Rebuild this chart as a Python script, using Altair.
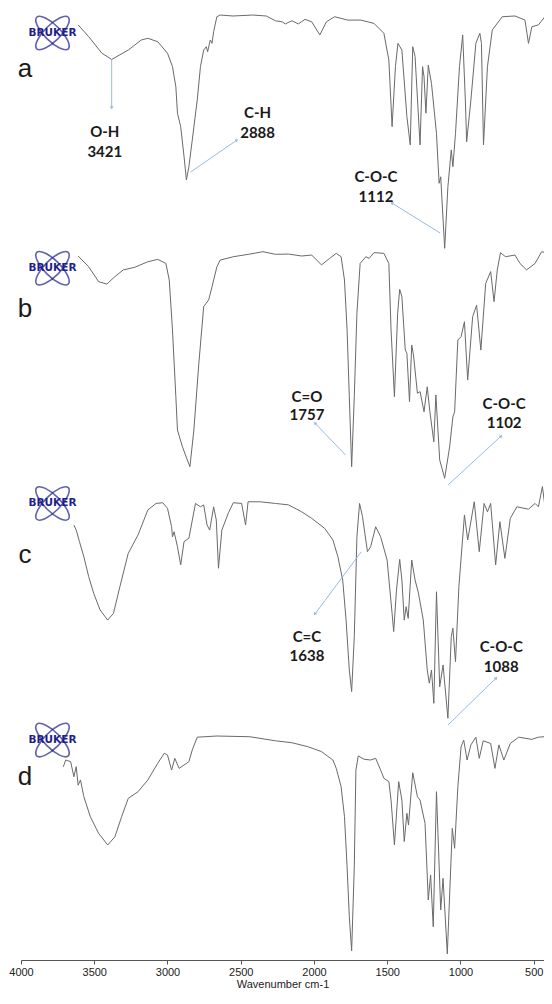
import altair as alt
import pandas as pd

# ---- spectra (wavenumber cm-1, transmittance in panel units 0-100) ----
wn_a = [3610, 3538, 3448, 3381, 3268, 3179, 3134, 3067, 3000, 2966,
        2943, 2932, 2910, 2887, 2871, 2854, 2831, 2797, 2775, 2753,
        2735, 2726, 2708, 2696, 2685, 2663, 2640, 2553, 2418, 2326,
        2263, 2218, 2196, 2151, 2107, 2061, 2016, 1960, 1915, 1860,
        1770, 1680, 1590, 1523, 1489, 1467, 1444, 1427, 1400, 1366,
        1343, 1326, 1310, 1276, 1259, 1249, 1236, 1220, 1198, 1164,
        1146, 1135, 1108, 1086, 1063, 1052, 1034, 1007, 985, 967,
        958, 929, 895, 868, 857, 843, 816, 783, 715, 628,
        560, 536, 513, 468, 406]
T_a = [93.8, 88.9, 82.0, 79.4, 83.3, 87.5, 88.2, 86.8, 82.0, 76.4,
       68.0, 57.0, 51.4, 38.9, 29.2, 34.7, 45.8, 62.5, 76.4, 83.3,
       84.7, 82.6, 87.5, 86.1, 91.0, 97.2, 97.9, 97.5, 97.9, 97.5,
       95.5, 95.1, 94.2, 95.5, 94.2, 96.1, 95.1, 89.6, 95.1, 97.2,
       95.8, 95.8, 94.4, 90.3, 79.2, 51.4, 76.4, 86.1, 83.3, 55.6,
       43.8, 84.7, 80.6, 43.8, 76.4, 72.2, 57.0, 77.0, 69.4, 48.6,
       27.8, 30.5, 0.7, 26.4, 41.7, 34.7, 48.6, 76.4, 89.6, 62.5,
       45.1, 62.5, 86.1, 90.3, 86.1, 43.8, 76.4, 91.7, 97.2, 97.5,
       95.8, 86.1, 93.0, 93.8, 98.6]

wn_b = [3610, 3538, 3470, 3414, 3359, 3302, 3224, 3134, 3067, 3011,
        2988, 2966, 2943, 2932, 2898, 2869, 2847, 2820, 2786, 2753,
        2719, 2696, 2663, 2640, 2551, 2438, 2349, 2263, 2174, 2084,
        2016, 1949, 1893, 1848, 1815, 1792, 1774, 1759, 1743, 1725,
        1707, 1685, 1646, 1624, 1590, 1523, 1489, 1474, 1451, 1429,
        1415, 1400, 1377, 1366, 1348, 1333, 1321, 1294, 1276, 1249,
        1227, 1209, 1182, 1168, 1142, 1108, 1074, 1052, 1040, 1018,
        996, 973, 951, 917, 890, 861, 828, 794, 771, 749,
        727, 693, 628, 594, 549, 491, 446, 406]
T_b = [97.5, 93.0, 86.8, 85.8, 88.9, 91.7, 92.8, 95.1, 96.1, 94.4,
       87.5, 66.7, 38.9, 25.0, 18.0, 13.2, 9.7, 25.0, 52.8, 76.4,
       79.2, 84.7, 93.0, 95.8, 97.2, 98.3, 99.3, 98.2, 98.3, 97.5,
       97.9, 93.8, 96.5, 98.6, 97.2, 87.5, 66.7, 38.9, 9.7, 38.9,
       73.6, 94.4, 97.2, 96.5, 98.9, 98.6, 94.4, 66.7, 38.9, 73.6,
       83.6, 80.5, 58.3, 57.0, 36.8, 60.4, 56.3, 40.3, 41.0, 32.6,
       43.0, 32.6, 20.1, 39.6, 12.5, 4.9, 18.0, 30.5, 32.6, 62.5,
       63.9, 70.1, 45.8, 72.2, 77.0, 58.3, 86.1, 91.0, 78.5, 91.7,
       98.9, 97.2, 97.9, 94.4, 91.7, 94.4, 99.3, 98.6]

wn_c = [3639, 3623, 3601, 3571, 3538, 3504, 3460, 3408, 3369, 3325,
        3268, 3201, 3134, 3078, 3033, 3000, 2972, 2966, 2955, 2932,
        2910, 2887, 2854, 2809, 2775, 2753, 2730, 2712, 2685, 2667,
        2652, 2629, 2584, 2551, 2494, 2467, 2450, 2371, 2263, 2174,
        2084, 2016, 1927, 1871, 1837, 1804, 1781, 1759, 1743, 1725,
        1707, 1689, 1669, 1635, 1613, 1579, 1545, 1501, 1467, 1456,
        1437, 1415, 1400, 1384, 1371, 1357, 1333, 1310, 1287, 1254,
        1227, 1213, 1198, 1182, 1164, 1142, 1119, 1086, 1063, 1052,
        1034, 1011, 973, 951, 935, 906, 872, 839, 816, 794,
        760, 731, 697, 660, 615, 536, 491, 468, 441, 423, 406]
T_c = [85.4, 83.3, 78.5, 72.2, 63.9, 57.0, 50.0, 45.8, 48.6, 59.7,
       73.6, 81.3, 91.7, 94.4, 94.7, 92.4, 84.7, 80.5, 82.6, 76.4,
       68.8, 78.5, 79.9, 94.4, 93.0, 93.8, 85.4, 83.3, 93.0, 87.5,
       67.4, 83.3, 90.5, 94.7, 94.4, 85.4, 95.1, 95.1, 94.4, 93.8,
       90.9, 88.2, 84.0, 79.2, 72.2, 62.5, 45.8, 25.0, 16.0, 38.9,
       80.5, 94.4, 88.9, 74.3, 76.4, 84.7, 80.5, 70.8, 48.6, 41.0,
       58.3, 71.1, 62.5, 45.8, 51.4, 46.5, 70.8, 62.5, 57.0, 45.8,
       25.0, 19.5, 25.0, 11.1, 57.6, 18.0, 27.1, 4.9, 38.9, 42.4,
       28.5, 59.7, 89.6, 79.2, 84.7, 95.1, 74.3, 94.4, 90.9, 94.4,
       68.8, 86.8, 71.5, 88.2, 93.0, 92.0, 94.4, 93.0, 101.4, 93.0, 92.4]

wn_d = [3711, 3695, 3661, 3639, 3623, 3610, 3594, 3571, 3527, 3470,
        3408, 3359, 3313, 3268, 3201, 3134, 3067, 3022, 3000, 2972,
        2950, 2921, 2854, 2831, 2797, 2663, 2438, 2263, 2151, 2039,
        1949, 1871, 1848, 1815, 1792, 1774, 1759, 1743, 1725, 1714,
        1698, 1658, 1613, 1579, 1545, 1523, 1489, 1474, 1451, 1422,
        1400, 1384, 1366, 1355, 1326, 1294, 1276, 1242, 1220, 1204,
        1186, 1164, 1135, 1119, 1090, 1056, 1040, 1018, 996, 978,
        955, 929, 895, 872, 845, 794, 765, 738, 704, 660,
        603, 513, 468, 428, 406]
T_d = [84.7, 87.5, 86.8, 80.5, 84.7, 77.0, 79.2, 72.2, 63.9, 56.9,
       52.1, 55.5, 63.9, 71.5, 74.3, 79.2, 86.1, 90.3, 89.6, 83.3,
       88.2, 84.0, 86.8, 91.7, 97.0, 97.5, 97.2, 95.5, 94.7, 93.0,
       91.0, 87.5, 84.0, 76.4, 63.9, 43.0, 22.2, 8.0, 43.0, 83.3,
       89.2, 87.8, 87.5, 88.2, 83.3, 79.9, 78.5, 70.8, 52.1, 78.5,
       70.8, 53.5, 65.3, 60.4, 82.2, 72.2, 70.8, 61.1, 29.2, 39.6,
       18.0, 74.3, 25.0, 38.2, 6.7, 59.0, 50.7, 76.4, 93.0, 95.8,
       87.5, 93.8, 97.0, 88.2, 95.5, 94.4, 84.0, 93.8, 87.5, 94.4,
       97.0, 96.1, 97.0, 97.2, 102.8]

panels = ["a", "b", "c", "d"]
offsets = [300, 200, 100, 0]

# panel letters and logo levels (in stacked units)
letter_y = [372.2, 272.1, 169.6, 77.1]
logo_y = [390.4, 292.4, 194.4, 95.8]

# band annotations
lab_line1 = ["O-H", "C-H", "C-O-C", "C=O", "C-O-C", "C=C", "C-O-C"]
lab_line2 = ["3421", "2888", "1112", "1757", "1102", "1638", "1088"]
lab_wn = [3428, 2385, 1577, 2048, 702, 2048, 722]
lab_y1 = [349.2, 357.1, 330.4, 238.8, 235.8, 138.8, 134.6]
lab_y2 = [340.8, 348.8, 322.1, 231.3, 227.9, 130.8, 126.3]
# pointer lines: from band to label
ptr_wn_band = [3381, 2842, 1139, 1785, 1085, 1678, 1085]
ptr_y_band = [379.2, 332.5, 307.1, 214.6, 202.1, 174.2, 102.1]
ptr_wn_lab = [3381, 2526, 1469, 1994, 722, 1994, 756]
ptr_y_lab = [359.2, 345.8, 319.6, 227.9, 222.5, 148.3, 121.7]
ptr_angle = [180, 56, 301, 316, 48, 217, 46]

x_ticks = [4000, 3500, 3000, 2500, 2000, 1500, 1000, 500]

# ---- build tables ----
rows = []
for p, off, wn, T in zip(panels, offsets, [wn_a, wn_b, wn_c, wn_d], [T_a, T_b, T_c, T_d]):
    for i, (w, t) in enumerate(zip(wn, T)):
        rows.append({"panel": p, "wn": w, "y": t + off, "i": i})
spec = pd.DataFrame(rows)

letters = pd.DataFrame({"t": panels, "wn": [3973] * 4, "y": letter_y})
logos = pd.DataFrame({"t": ["BRUKER"] * 4, "wn": [3785] * 4, "y": logo_y})

lab_rows = []
for a, b, w, y1, y2 in zip(lab_line1, lab_line2, lab_wn, lab_y1, lab_y2):
    lab_rows.append({"t": a, "wn": w, "y": y1})
    lab_rows.append({"t": b, "wn": w, "y": y2})
labels = pd.DataFrame(lab_rows)

ptrs = pd.DataFrame({"wn1": ptr_wn_band, "y1": ptr_y_band,
                     "wn2": ptr_wn_lab, "y2": ptr_y_lab, "ang": ptr_angle})

xs = alt.Scale(domain=[4000, 430], nice=False, zero=False)
ys = alt.Scale(domain=[4.167, 400.833], nice=False, zero=False)

x_axis = alt.Axis(values=x_ticks, format="d", tickSize=4, labelPadding=2,
                  title="Wavenumber cm-1", titlePadding=1, grid=False,
                  domainColor="#555555", tickColor="#555555",
                  labelFont="Liberation Sans", labelFontSize=11, labelColor="#222222",
                  labelFlush=False,
                  titleFont="Liberation Sans", titleFontSize=11,
                  titleFontWeight="normal", titleColor="#222222")

lines = alt.Chart(spec).mark_line(color="#6a6a6a", strokeWidth=1, clip=True).encode(
    x=alt.X("wn:Q", scale=xs, axis=x_axis),
    y=alt.Y("y:Q", scale=ys, axis=None),
    detail="panel:N",
    order="i:Q",
)

ell1 = "M -0.707 -0.707 A 1 0.36 45 0 1 0.707 0.707 A 1 0.36 45 0 1 -0.707 -0.707 Z"
ell2 = "M -0.707 0.707 A 1 0.36 -45 0 1 0.707 -0.707 A 1 0.36 -45 0 1 -0.707 0.707 Z"

logo_e1 = alt.Chart(logos).mark_point(shape=ell1, size=2000, filled=False,
                                      color="#1f1f8c", strokeWidth=1.6).encode(
    x=alt.X("wn:Q", scale=xs), y=alt.Y("y:Q", scale=ys))
logo_e2 = alt.Chart(logos).mark_point(shape=ell2, size=2000, filled=False,
                                      color="#1f1f8c", strokeWidth=1.6).encode(
    x=alt.X("wn:Q", scale=xs), y=alt.Y("y:Q", scale=ys))
logo_txt = alt.Chart(logos).mark_text(font="DejaVu Sans", fontWeight="bold", fontSize=10.5,
                                      color="#1f1f8c", baseline="middle", align="center").encode(
    x=alt.X("wn:Q", scale=xs), y=alt.Y("y:Q", scale=ys), text="t:N")

letter_txt = alt.Chart(letters).mark_text(font="Liberation Sans", fontSize=26,
                                          color="#1a1a1a", baseline="alphabetic",
                                          align="center").encode(
    x=alt.X("wn:Q", scale=xs), y=alt.Y("y:Q", scale=ys), text="t:N")

lab_txt = alt.Chart(labels).mark_text(font="Lato", fontWeight="bold", fontSize=15,
                                      color="#1a1a1a", baseline="middle",
                                      align="center").encode(
    x=alt.X("wn:Q", scale=xs), y=alt.Y("y:Q", scale=ys), text="t:N")

ptr_lines = alt.Chart(ptrs).mark_rule(color="#9ab9e3", strokeWidth=1).encode(
    x=alt.X("wn1:Q", scale=xs), y=alt.Y("y1:Q", scale=ys),
    x2="wn2:Q", y2="y2:Q")

ptr_heads = alt.Chart(ptrs).mark_point(shape="triangle-up", size=14, filled=True,
                                       color="#9ab9e3", opacity=1).encode(
    x=alt.X("wn2:Q", scale=xs), y=alt.Y("y2:Q", scale=ys),
    angle=alt.Angle("ang:Q", scale=None))

chart = alt.layer(lines, ptr_lines, ptr_heads, logo_e1, logo_e2, logo_txt,
                  letter_txt, lab_txt).properties(
    width=523, height=952,
    autosize=alt.AutoSizeParams(type="none"),
    padding={"left": 13, "top": 0, "right": 0, "bottom": 31},
).configure_view(stroke=None)

chart.save("out.html", embed_options={"renderer": "svg", "actions": False})
